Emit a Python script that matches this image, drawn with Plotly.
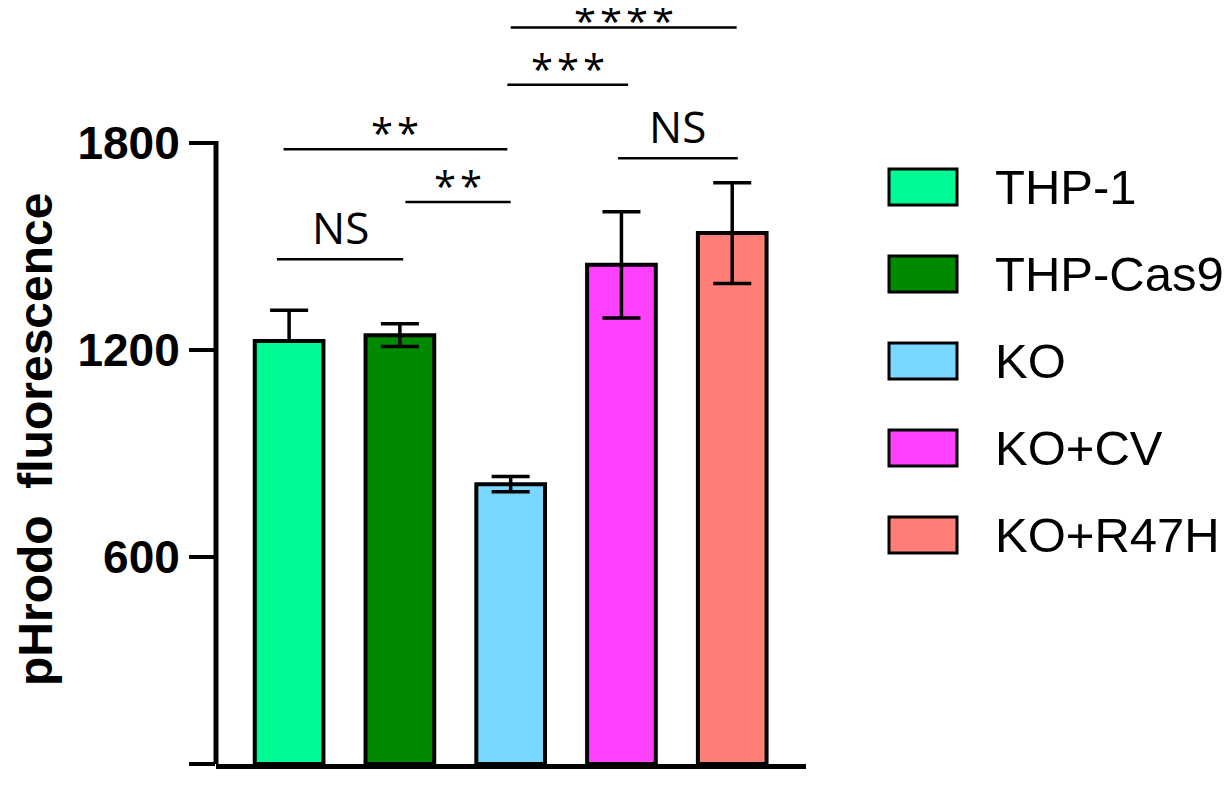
import plotly.graph_objects as go

# data
groups = ["THP-1", "THP-Cas9", "KO", "KO+CV", "KO+R47H"]
means = [1226, 1243, 811, 1447, 1539]
err_up = [89, 33, 22, 154, 146]
err_down = [0, 33, 22, 154, 146]
colors = ["#00FA94", "#008A00", "#78D6FF", "#FF40FF", "#FF7F78"]
y_ticks = [0, 600, 1200, 1800]

# significance brackets (group positions / heights in data units)
sig_x0 = [-0.11, -0.05, 1.05, 1.97, 2.0, 2.97]
sig_x1 = [1.03, 1.97, 2.0, 3.06, 4.04, 4.05]
sig_y = [1463, 1782, 1629, 1969, 2135, 1756]
sig_label = ["NS", "**", "**", "***", "****", "NS"]

# the page body adds an 8px margin, so work in page pixels minus that
OFF = 8
W, H = 1230 - OFF, 787 - OFF
ML = 216 - OFF
MR = W - (806 - OFF)
MB = H - (764 - OFF)
MT = 2
PW, PH = W - ML - MR, H - MT - MB
YMAX = PH / 0.345


def px_x(p):
    return (p - OFF - ML) / PW


def px_y(p):
    return (H - MB - (p - OFF)) / PH


fig = go.Figure()

for i, g in enumerate(groups):
    fig.add_trace(go.Bar(
        x=[i], y=[means[i]], name=g, width=0.62,
        marker=dict(color=colors[i], line=dict(color="black", width=4)),
        error_y=dict(type="data", symmetric=False, array=[err_up[i]],
                     arrayminus=[err_down[i]], color="black",
                     thickness=3.5, width=19),
        showlegend=False,
    ))

# y axis line stops at the top tick
fig.add_shape(type="line", xref="paper", yref="y", x0=0, x1=0, y0=0, y1=1806,
              line=dict(color="black", width=5))

# brackets and labels
for x0, x1, y, lab in zip(sig_x0, sig_x1, sig_y, sig_label):
    fig.add_shape(type="line", xref="x", yref="y", x0=x0, x1=x1, y0=y, y1=y,
                  line=dict(color="black", width=2.5))
    if lab.startswith("*"):
        text = "\u200a".join(lab)
        shift = -23 if y == max(sig_y) else -13
        size = 40
    else:
        text, shift, size = lab, 0, 44
    fig.add_annotation(x=(x0 + x1) / 2, y=y, xref="x", yref="y",
                       text=text, showarrow=False, yanchor="bottom", yshift=shift,
                       font=dict(family="Open Sans", size=size, color="black"))

# hand-made legend with large swatches
for i, g in enumerate(groups):
    cy = 187 + 87 * i
    fig.add_shape(type="rect", xref="paper", yref="paper",
                  x0=px_x(889), x1=px_x(957), y0=px_y(cy + 18), y1=px_y(cy - 18),
                  fillcolor=colors[i], line=dict(color="black", width=3))
    fig.add_annotation(x=px_x(993), y=px_y(cy), xref="paper", yref="paper",
                       text=g, showarrow=False, xanchor="left", yanchor="middle",
                       font=dict(family="Liberation Sans, Arial", size=49, color="black"))

# y title
fig.add_annotation(x=px_x(35), y=px_y(440), xref="paper", yref="paper",
                   xanchor="center", yanchor="middle",
                   text="pHrodo&nbsp;&nbsp;fluorescence", textangle=-90, showarrow=False,
                   font=dict(family="Liberation Sans, Arial", size=48, color="black",
                             weight="bold"))

fig.update_layout(
    width=W, height=H,
    margin=dict(l=ML, r=MR, t=MT, b=MB),
    plot_bgcolor="white", paper_bgcolor="white",
    barmode="overlay",
)
fig.update_xaxes(range=[-0.66, 4.666], showticklabels=False, ticks="",
                 showgrid=False, zeroline=False,
                 showline=True, linecolor="black", linewidth=5)
fig.update_yaxes(range=[0, YMAX], tickvals=y_ticks, ticks="outside", ticklen=26,
                 tickwidth=4, tickcolor="black", showgrid=False, zeroline=False,
                 showline=False,
                 tickfont=dict(family="Liberation Sans, Arial", size=46,
                               color="black", weight="bold"))

fig.write_html("out.html")
